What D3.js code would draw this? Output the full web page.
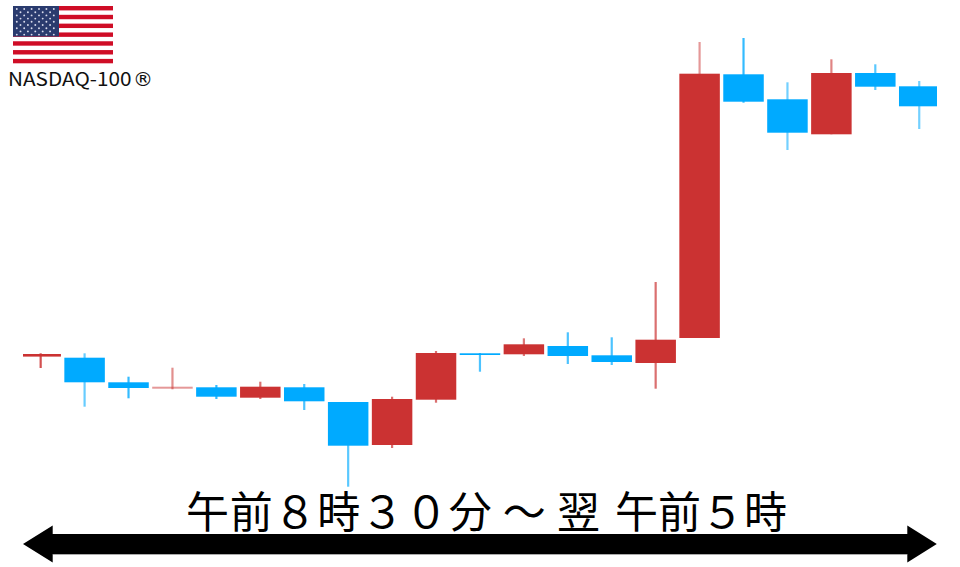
<!DOCTYPE html>
<html><head><meta charset="utf-8">
<script src="https://cdn.jsdelivr.net/npm/d3@7"></script>
<style>html,body{margin:0;padding:0;background:#fff}svg{display:block}</style>
</head><body><svg id="c" width="960" height="567"></svg>
<script>
const hours = ["8:30","9:30","10:30","11:30","12:30","13:30","14:30","15:30","16:30","17:30","18:30","19:30","20:30","21:30","22:30","23:30","0:30","1:30","2:30","3:30","4:30"];
// Readings are picture heights above the chart floor (no axis in the source)
const opens  = [210.4,209.3,184.7,178.3,179.7,169.3,179.7,165.0,122.0,167.3,213.7,212.7,221.0,211.7,204.0,229.0,492.7,467.7,432.7,494.0,480.7];
const closes = [213.0,184.7,179.0,180.3,170.3,180.3,165.7,121.3,168.0,214.0,212.0,222.7,211.0,205.0,227.3,493.3,465.3,434.3,494.0,480.3,460.7];
const highs  = [213.7,213.7,190.3,199.3,182.0,185.3,183.0,165.0,170.3,216.0,214.0,228.7,234.7,229.7,285.0,525.0,529.0,484.7,507.7,502.7,486.0];
const lows   = [199.0,160.3,168.7,177.7,168.0,168.0,157.0, 80.3,119.0,164.3,195.3,211.0,203.0,202.0,178.3,229.0,464.3,417.0,432.7,477.0,438.0];
const wickOpacity = [0.85,0.6,0.8,0.55,0.8,0.7,0.7,0.65,0.7,0.7,0.7,0.65,0.7,0.7,0.7,0.5,0.8,0.55,0.6,0.65,0.55];
const bodyOpacity = [1,1,1,0.5,1,1,1,1,1,1,1,1,1,1,1,1,1,1,1,1,1];
const upColor = "#cb3332", downColor = "#00aaff";
const titleStart = "午前８時３０分 ～ 翌";
const titleEnd = "午前５時";
const indexName = "NASDAQ-100";
const indexMark = "®";
const candles = hours.map((h,i)=>({h,o:opens[i],c:closes[i],hi:highs[i],lo:lows[i],w:wickOpacity[i],b:bodyOpacity[i]}));

const svg = d3.select("#c");
const defs = svg.append("defs");
defs.append("clipPath").attr("id","clip").append("rect").attr("x",23).attr("y",0).attr("width",914).attr("height",567);
defs.append("filter").attr("id","soft").attr("x","-5%").attr("y","-5%").attr("width","110%").attr("height","110%")
  .append("feGaussianBlur").attr("stdDeviation",0.45);

const x = d3.scaleBand().domain(hours).range([18.7,941.2]).paddingInner(0.078).paddingOuter(0.039);
const y = d3.scaleLinear().domain([0,567]).range([567,0]);

const g = svg.append("g").attr("clip-path","url(#clip)").append("g").attr("filter","url(#soft)");
const colour = d => d.c >= d.o ? upColor : downColor;
g.selectAll("line.wick").data(candles).join("line").attr("class","wick")
  .attr("x1",d=>x(d.h)+x.bandwidth()/2).attr("x2",d=>x(d.h)+x.bandwidth()/2)
  .attr("y1",d=>y(d.hi)).attr("y2",d=>y(d.lo))
  .attr("stroke",colour).attr("stroke-width",2.2).attr("stroke-opacity",d=>d.w);
g.selectAll("rect.body").data(candles).join("rect").attr("class","body")
  .attr("x",d=>x(d.h)).attr("width",x.bandwidth())
  .attr("y",d=>y(Math.max(d.o,d.c))).attr("height",d=>Math.abs(y(d.o)-y(d.c)))
  .attr("fill",colour).attr("fill-opacity",d=>d.b);

// flag
const flag = svg.append("g").attr("filter","url(#soft)");
const fy = d3.scaleBand().domain(d3.range(13)).range([6,63.3]);
flag.append("rect").attr("x",13).attr("y",6).attr("width",100).attr("height",57.3).attr("fill","#fff");
flag.selectAll("rect.s").data(d3.range(13).filter(i=>i%2===0)).join("rect").attr("class","s")
  .attr("x",13).attr("width",100).attr("y",d=>fy(d)).attr("height",fy.bandwidth()).attr("fill","#cf0a26");
flag.append("rect").attr("x",13).attr("y",6).attr("width",46).attr("height",30.5).attr("fill","#2b3a6e");
for(let r=0;r<9;r++){const n=r%2?5:6;for(let k=0;k<n;k++){
  flag.append("circle").attr("cx",16.8+k*7.4+(r%2?3.7:0)).attr("cy",9+r*3.2).attr("r",0.95).attr("fill","#d8dcec");
}}
svg.append("text").attr("x",8).attr("y",86).attr("font-family","'Noto Sans CJK JP',sans-serif").attr("font-size",19)
  .attr("fill","#111").attr("textLength",123.5).attr("lengthAdjust","spacingAndGlyphs").text(indexName);
svg.append("text").attr("x",133).attr("y",86).attr("font-family","'DejaVu Sans',sans-serif").attr("font-size",20)
  .attr("fill","#111").text(indexMark);

// title
const titleAttrs = s => s.attr("y",528).attr("font-family","'Noto Sans CJK JP',sans-serif").attr("font-size",43)
  .attr("fill","#000").attr("lengthAdjust","spacing");
svg.append("text").call(titleAttrs).attr("x",186).attr("textLength",414).text(titleStart);
svg.append("text").call(titleAttrs).attr("x",615).attr("textLength",172).text(titleEnd);

// double arrow
const arrow = d3.line();
const arrowPts = [[23,544],[52.7,525.5],[52.7,534],[907.3,534],[907.3,525.5],[936.8,544],[907.3,562.5],[907.3,554],[52.7,554],[52.7,562.5]];
svg.append("line").attr("x1",52.7).attr("x2",907.3).attr("y1",554.5).attr("y2",554.5).attr("stroke","#aaa").attr("stroke-width",1);
svg.append("path").attr("d",arrow(arrowPts)+"Z").attr("fill","#000");
</script></body></html>
